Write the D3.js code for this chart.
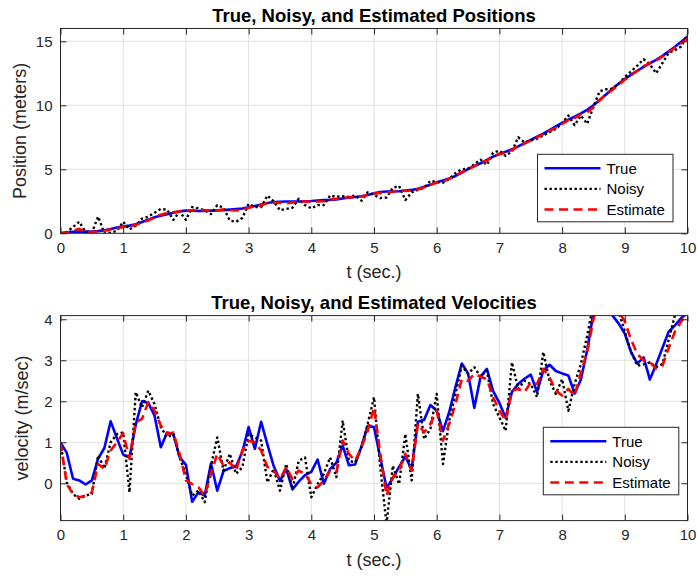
<!DOCTYPE html>
<html>
<head>
<meta charset="utf-8">
<script src="https://cdn.jsdelivr.net/npm/d3@7"></script>
<style>
  body { margin: 0; background: #fff; }
  svg { font-family: "Liberation Sans", Arial, sans-serif; }
</style>
</head>
<body>
<div id="chart"></div>
<script>
// time samples, 0 .. 10 sec in 0.1 steps
var timeTicks = [0, 1, 2, 3, 4, 5, 6, 7, 8, 9, 10];
var posTicks = [0, 5, 10, 15];
var velTicks = [0, 1, 2, 3, 4];
var seriesNames = ["True", "Noisy", "Estimate"];

var truePos = [0, 0.08, 0.12, 0.13, 0.13, 0.14, 0.17, 0.23, 0.34, 0.45, 0.53,
  0.6, 0.7, 0.88, 1.07, 1.25, 1.38, 1.49, 1.61, 1.71, 1.77,
  1.76, 1.74, 1.75, 1.77, 1.78, 1.81, 1.85, 1.89, 1.94, 2.03,
  2.14, 2.25, 2.37, 2.44, 2.46, 2.48, 2.49, 2.49, 2.5, 2.52,
  2.56, 2.59, 2.61, 2.65, 2.72, 2.79, 2.84, 2.9, 3.0, 3.13,
  3.23, 3.26, 3.26, 3.29, 3.34, 3.39, 3.48, 3.63, 3.8, 3.98,
  4.13, 4.28, 4.48, 4.74, 5.02, 5.25, 5.47, 5.74, 5.99, 6.2,
  6.37, 6.56, 6.79, 7.04, 7.3, 7.54, 7.79, 8.07, 8.35, 8.62,
  8.88, 9.12, 9.36, 9.65, 10.0, 10.42, 10.85, 11.28, 11.68, 12.05,
  12.39, 12.7, 13.0, 13.28, 13.55, 13.86, 14.21, 14.58, 14.97, 15.38];

var noisyPos = [0, 0.1, 0.5, 0.9, 0.1, 0.05, 1.3, 0, 0.05, 0.2, 0.9,
  0.3, 0.6, 1.15, 1.3, 1.6, 1.9, 1.85, 1.05, 1.7, 1.05,
  2.05, 1.95, 1.8, 1.5, 2.2, 2.0, 1.0, 0.9, 1.2, 2.3,
  2.05, 2.05, 2.95, 2.5, 1.8, 1.9, 2.0, 2.7, 2.2, 1.95,
  2.2, 2.2, 2.95, 2.85, 2.9, 2.85, 2.95, 2.55, 3.2, 3.0,
  2.75, 2.8, 3.55, 3.7, 2.6, 3.2, 3.4, 3.55, 4.1, 4.0,
  3.95, 4.25, 4.7, 5.0, 5.05, 5.4, 5.75, 5.35, 6.3, 6.45,
  6.05, 6.4, 7.5, 7.1, 7.25, 7.4, 7.65, 7.9, 8.15, 8.6,
  9.2, 8.45, 9.2, 8.55, 9.9, 11.1, 11.25, 11.3, 11.65, 12.2,
  12.65, 13.1, 13.6, 13.2, 12.5, 13.3, 14.1, 14.3, 14.6, 15.5];

var estPos = [0, 0.05, 0.2, 0.35, 0.12, 0.1, 0.15, 0.2, 0.3, 0.4, 0.5,
  0.55, 0.65, 0.85, 1.0, 1.25, 1.45, 1.6, 1.65, 1.72, 1.75,
  1.8, 1.82, 1.8, 1.78, 1.8, 1.85, 1.8, 1.78, 1.85, 2.0,
  2.1, 2.2, 2.35, 2.4, 2.38, 2.35, 2.4, 2.5, 2.48, 2.45,
  2.48, 2.5, 2.62, 2.7, 2.75, 2.8, 2.85, 2.88, 3.0, 3.1,
  3.15, 3.15, 3.25, 3.35, 3.3, 3.35, 3.45, 3.6, 3.8, 3.95,
  4.05, 4.25, 4.5, 4.78, 5.0, 5.25, 5.5, 5.7, 5.95, 6.2,
  6.3, 6.5, 6.8, 7.0, 7.25, 7.5, 7.75, 8.0, 8.25, 8.55,
  8.85, 9.0, 9.3, 9.45, 9.85, 10.4, 10.85, 11.2, 11.6, 12.0,
  12.35, 12.7, 13.05, 13.3, 13.5, 13.8, 14.15, 14.5, 14.85, 15.2];

var trueVel = [1.0, 0.74, 0.11, 0.07, -0.03, 0.07, 0.6, 0.86, 1.51, 1.1, 0.7,
  0.63, 1.43, 2.0, 1.96, 1.65, 0.88, 1.24, 1.2, 0.64, 0.45,
  -0.45, -0.22, -0.3, 0.48, -0.18, 0.3, 0.37, 0.41, 0.77, 1.37,
  0.84, 1.5, 0.95, 0.42, 0.06, 0.35, -0.15, 0.04, 0.2, 0.28,
  0.58, -0.01, 0.35, 0.5, 0.92, 0.44, 0.46, 0.9, 1.4, 1.37,
  0.63, -0.11, 0.12, 0.4, 0.65, 0.34, 1.5, 1.55, 1.91, 1.77,
  1.27, 1.74, 2.35, 2.92, 2.68, 1.84, 2.6, 2.79, 2.25, 1.96,
  1.6, 2.23, 2.42, 2.55, 2.65, 2.23, 2.75, 2.89, 2.74, 2.68,
  2.63, 2.19, 2.53, 3.25, 4.15, 4.3, 4.3, 4.1, 3.9, 3.65,
  3.2, 2.92, 3.07, 2.53, 2.9, 3.3, 3.7, 3.85, 4.03, 4.15];

var noisyVel = [1.0, 0.02, -0.26, -0.38, -0.3, -0.26, 0.68, 0.36, 1.0, 1.2, 1.24,
  -0.22, 2.22, 1.85, 2.26, 1.93, 1.37, 1.12, 1.2, 0.63, 0.23,
  -0.3, -0.18, -0.46, 0.43, 1.12, 0.31, 0.72, 0.23, 0.39, 1.2,
  1.12, 1.04, 0.02, 0.35, -0.18, 0.47, -0.14, 0.55, 0.63, -0.34,
  -0.02, 0.23, 0.63, 0.15, 1.53, 0.55, 0.51, 0.88, 1.45, 2.1,
  0.39, -1.0, 0.43, -0.02, 1.2, 0.07, 2.18, 1.08, 1.33, 2.18,
  0.47, 1.53, 2.18, 2.87, 2.67, 2.83, 2.6, 2.75, 1.93, 1.61,
  1.28, 2.95, 2.3, 2.5, 2.42, 2.1, 3.2, 2.5, 2.18, 2.54,
  1.77, 2.42, 2.91, 3.6, 4.4, 4.6, 4.5, 4.3, 4.2, 3.7,
  3.2, 2.87, 2.9, 2.95, 2.83, 2.91, 3.5, 4.1, 4.3, 4.2];

var estVel = [1.0, -0.02, -0.26, -0.34, -0.3, -0.22, 0.47, 0.35, 0.8, 1.0, 1.22,
  0.6, 1.49, 1.57, 1.98, 1.77, 1.41, 1.2, 1.24, 0.72, 0.07,
  -0.02, -0.1, -0.3, 0.23, 0.72, 0.43, 0.51, 0.31, 0.8, 1.04,
  1.0, 0.8, 0.4, 0.31, 0.1, 0.39, 0.1, 0.31, 0.23, -0.02,
  -0.1, 0.07, 0.31, 0.27, 1.04, 0.72, 0.55, 0.88, 1.28, 1.85,
  0.72, -0.3, 0.15, 0.31, 0.72, 0.31, 1.45, 1.24, 1.45, 1.77,
  1.04, 1.45, 1.93, 2.54, 2.5, 2.67, 2.6, 2.54, 2.1, 1.77,
  1.53, 2.26, 2.3, 2.22, 2.46, 2.42, 2.79, 2.58, 2.26, 2.14,
  2.3, 2.14, 2.7, 3.2, 4.0, 4.5, 4.6, 4.4, 4.2, 3.95,
  3.5, 3.15, 3.0, 2.95, 2.8, 2.87, 3.3, 3.7, 3.95, 4.13];

var W = 698, H = 576;
var svg = d3.select("#chart").append("svg")
  .attr("width", W)
  .attr("height", H);

// line styles for True / Noisy / Estimate
var styles = [
  { color: "#0000ff", width: 2.6, dash: null },
  { color: "#000000", width: 2.4, dash: "2.4,2.6" },
  { color: "#ff0000", width: 2.6, dash: "9,5.5" }
];

function drawPanel(opt) {
  var g = svg.append("g");
  var x = d3.scaleLinear().domain([0, 10]).range([opt.left, opt.right]);
  var y = d3.scaleLinear().domain(opt.yDomain).range([opt.bottom, opt.top]);
  var fmt = d3.format("d");

  // grid
  g.selectAll("line.gx").data(timeTicks).enter().append("line")
    .attr("x1", function(d) { return x(d); }).attr("x2", function(d) { return x(d); })
    .attr("y1", opt.top).attr("y2", opt.bottom)
    .attr("stroke", "#e1e1e1").attr("stroke-width", 1);
  g.selectAll("line.gy").data(opt.yTicks).enter().append("line")
    .attr("y1", function(d) { return y(d); }).attr("y2", function(d) { return y(d); })
    .attr("x1", opt.left).attr("x2", opt.right)
    .attr("stroke", "#e1e1e1").attr("stroke-width", 1);

  // lines (clipped to the axes)
  var clipId = "clip" + opt.id;
  svg.append("clipPath").attr("id", clipId).append("rect")
    .attr("x", opt.left).attr("y", opt.top)
    .attr("width", opt.right - opt.left).attr("height", opt.bottom - opt.top);

  var line = d3.line()
    .x(function(d, i) { return x(i / 10); })
    .y(function(d) { return y(d); });

  var plot = g.append("g").attr("clip-path", "url(#" + clipId + ")");
  opt.series.forEach(function(s, k) {
    plot.append("path")
      .datum(s)
      .attr("d", line)
      .attr("fill", "none")
      .attr("stroke", styles[k].color)
      .attr("stroke-width", styles[k].width)
      .attr("stroke-linejoin", "round")
      .attr("stroke-dasharray", styles[k].dash);
  });

  // axes: ticks inside, box on all sides
  var tl = 6;
  var axB = g.append("g").attr("transform", "translate(0," + opt.bottom + ")")
    .call(d3.axisBottom(x).tickValues(timeTicks).tickFormat(fmt).tickSizeInner(-tl).tickSizeOuter(0).tickPadding(9));
  var axT = g.append("g").attr("transform", "translate(0," + opt.top + ")")
    .call(d3.axisTop(x).tickValues(timeTicks).tickSizeInner(-tl).tickSizeOuter(0).tickFormat(""));
  var axL = g.append("g").attr("transform", "translate(" + opt.left + ",0)")
    .call(d3.axisLeft(y).tickValues(opt.yTicks).tickFormat(fmt).tickSizeInner(-tl).tickSizeOuter(0).tickPadding(8));
  var axR = g.append("g").attr("transform", "translate(" + opt.right + ",0)")
    .call(d3.axisRight(y).tickValues(opt.yTicks).tickSizeInner(-tl).tickSizeOuter(0).tickFormat(""));

  [axB, axT, axL, axR].forEach(function(a) {
    a.select(".domain").remove();
    a.selectAll("line").attr("stroke", "#262626");
    a.selectAll("text").attr("fill", "#262626").style("font-size", "15px")
      .style("font-family", "Liberation Sans, Arial, sans-serif");
  });

  g.append("rect")
    .attr("x", opt.left).attr("y", opt.top)
    .attr("width", opt.right - opt.left).attr("height", opt.bottom - opt.top)
    .attr("fill", "none").attr("stroke", "#262626").attr("stroke-width", 1);

  // title and labels
  g.append("text")
    .attr("x", (opt.left + opt.right) / 2).attr("y", opt.top - 7)
    .attr("text-anchor", "middle")
    .style("font-size", "18.5px").style("font-weight", "bold")
    .attr("fill", "#000")
    .text(opt.title);

  g.append("text")
    .attr("x", (opt.left + opt.right) / 2).attr("y", opt.bottom + 45)
    .attr("text-anchor", "middle")
    .style("font-size", "18px").attr("fill", "#262626")
    .text("t (sec.)");

  g.append("text")
    .attr("transform", "translate(" + opt.ylabelX + "," + ((opt.top + opt.bottom) / 2) + ") rotate(-90)")
    .attr("text-anchor", "middle")
    .style("font-size", "18px").attr("fill", "#262626")
    .text(opt.ylabel);

  // legend
  var lg = g.append("g").attr("transform", "translate(" + opt.legend[0] + "," + opt.legend[1] + ")");
  lg.append("rect")
    .attr("width", 135.5).attr("height", 67.5)
    .attr("fill", "#fff").attr("stroke", "#262626").attr("stroke-width", 1);
  seriesNames.forEach(function(name, k) {
    var yy = 14 + k * 20.6;
    lg.append("line")
      .attr("x1", 7).attr("x2", 63).attr("y1", yy).attr("y2", yy)
      .attr("stroke", styles[k].color)
      .attr("stroke-width", styles[k].width)
      .attr("stroke-dasharray", styles[k].dash);
    lg.append("text")
      .attr("x", 69).attr("y", yy + 5.5)
      .style("font-size", "15px").attr("fill", "#000")
      .text(name);
  });
}

drawPanel({
  id: 1, left: 60.5, right: 687.5, top: 28.5, bottom: 233.3,
  yDomain: [0, 16], yTicks: posTicks,
  series: [truePos, noisyPos, estPos],
  title: "True, Noisy, and Estimated Positions",
  ylabel: "Position (meters)", ylabelX: 26,
  legend: [537.5, 154.3]
});

drawPanel({
  id: 2, left: 60.5, right: 687.5, top: 315.6, bottom: 520.6,
  yDomain: [-0.91, 4.09], yTicks: velTicks,
  series: [trueVel, noisyVel, estVel],
  title: "True, Noisy, and Estimated Velocities",
  ylabel: "velocity (m/sec)", ylabelX: 28,
  legend: [543.3, 427.3]
});
</script>
</body>
</html>
